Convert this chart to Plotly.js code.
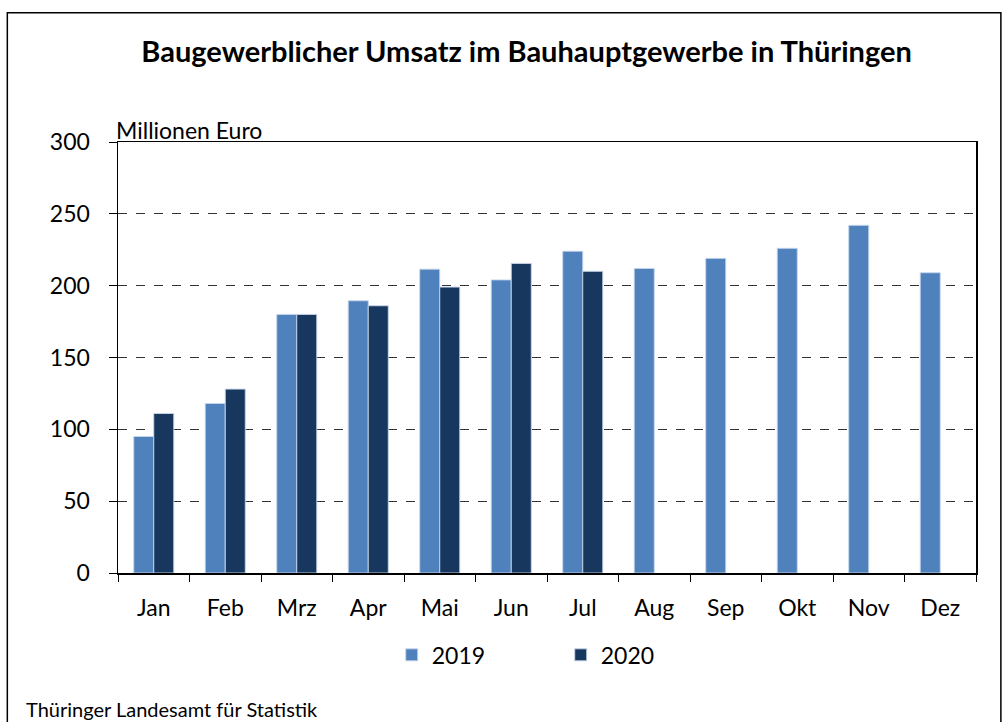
<!DOCTYPE html>
<html>
<head>
<meta charset="utf-8">
<script src="https://cdn.plot.ly/plotly-3.0.1.min.js"></script>
<style>html,body{margin:0;padding:0;background:#fff;}#chart{width:1003px;height:722px;}</style>
</head>
<body>
<div id="chart"></div>
<script>
const months = ["Jan","Feb","Mrz","Apr","Mai","Jun","Jul","Aug","Sep","Okt","Nov","Dez"];
const values2019 = [95, 118, 180, 189.5, 211.5, 204, 224, 212, 219, 226, 242, 209];
const values2020 = [111, 128, 180, 186, 199, 215.5, 210, null, null, null, null, null];
const yTicks = [0, 50, 100, 150, 200, 250, 300];

const FONT = "Lato, 'Open Sans', sans-serif";

const traces = [
  {type: "bar", name: "2019", x: months, y: values2019,
   marker: {color: "#4F81BD", line: {color: "rgba(200,215,235,0.9)", width: 1}}},
  {type: "bar", name: "2020", x: months, y: values2020,
   marker: {color: "#17375E", line: {color: "rgba(200,215,235,0.9)", width: 1}}}
];

const layout = {
  width: 1003, height: 722,
  margin: {l: 118, r: 27, t: 142, b: 149},
  paper_bgcolor: "#fff", plot_bgcolor: "#fff",
  font: {family: FONT, size: 23, color: "#000"},
  title: {text: "<b>Baugewerblicher Umsatz im Bauhauptgewerbe in Thüringen</b>",
          font: {family: FONT, size: 29, color: "#000"}, x: 0.525, xanchor: "center", y: 0.928, yanchor: "middle"},
  barmode: "group", bargap: 0.44, bargroupgap: 0,
  xaxis: {type: "category", showline: true, linecolor: "#000", linewidth: 1.5, mirror: true,
          ticks: "outside", tickson: "boundaries", ticklen: 7, tickcolor: "#000", tickwidth: 1,
          ticklabelstandoff: 14,
          tickfont: {size: 23, family: FONT}, showgrid: false, fixedrange: true},
  yaxis: {range: [0, 300], tickvals: yTicks, showline: true, linecolor: "#000", linewidth: 1.5, mirror: true,
          ticks: "outside", ticklen: 8, tickcolor: "#000", tickwidth: 1, ticklabelstandoff: 14,
          showgrid: true, gridcolor: "#333", griddash: "dash", gridwidth: 1,
          tickfont: {size: 23, family: FONT}, zeroline: false, fixedrange: true},
  legend: {orientation: "h", x: 0.516, xanchor: "center", y: -0.19, yanchor: "middle",
           font: {size: 23, family: FONT}, entrywidth: 124, entrywidthmode: "pixels", itemwidth: 30},
  annotations: [
    {text: "Millionen Euro", xref: "paper", yref: "paper", x: -0.005, y: 1.0, xanchor: "left", yanchor: "bottom",
     yshift: -4, showarrow: false, font: {size: 23, family: FONT}},
    {text: "Thüringer Landesamt für Statistik", xref: "paper", yref: "paper", x: -0.11, y: -0.316,
     xanchor: "left", yanchor: "middle", showarrow: false, font: {size: 20, family: FONT}}
  ],
  shapes: [
    {type: "path", xref: "paper", yref: "paper", path: "M -0.129,-0.5 L -0.129,1.3 L 1.029,1.3 L 1.029,-0.5",
     line: {color: "#000", width: 1.5}}
  ],
  showlegend: true
};

Plotly.newPlot("chart", traces, layout, {displayModeBar: false, staticPlot: true});
</script>
</body>
</html>
